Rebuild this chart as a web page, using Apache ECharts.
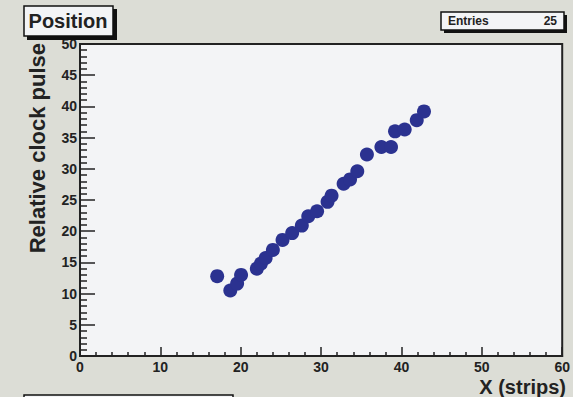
<!DOCTYPE html>
<html>
<head>
<meta charset="utf-8">
<script src="https://cdn.jsdelivr.net/npm/echarts@6/dist/echarts.min.js"></script>
<style>
  html, body { margin: 0; padding: 0; background: #dcddd6; }
  #main { width: 573px; height: 397px; }
</style>
</head>
<body>
<div id="main"></div>
<script>
// values
const stripX = [17.07, 18.7, 19.55, 20.04, 22.0, 22.5, 23.1, 24.0, 25.2, 26.4, 27.6, 28.4, 29.5,
  30.8, 31.3, 32.8, 33.6, 34.5, 35.7, 37.5, 38.7, 39.2, 40.4, 41.9, 42.8];
const clockPulse = [12.8, 10.5, 11.6, 13.0, 14.0, 14.8, 15.7, 17.0, 18.6, 19.7, 20.9, 22.4, 23.2,
  24.7, 25.7, 27.6, 28.3, 29.6, 32.3, 33.5, 33.5, 36.0, 36.3, 37.8, 39.2];
const titleText = "Position";
const entriesLabel = "Entries";
const entriesValue = "25";

const font = "'Liberation Sans', Arial, sans-serif";
const points = stripX.map((x, i) => [x, clockPulse[i]]);

const chart = echarts.init(document.getElementById("main"), null, { renderer: "svg" });

const option = {
  backgroundColor: "#dcddd6",
  animation: false,
  grid: {
    left: 80,
    right: 7,
    top: 44,
    bottom: 41,
    show: true,
    backgroundColor: "#f3f4f6",
    borderColor: "#222",
    borderWidth: 2,
  },
  xAxis: {
    type: "value",
    min: 0,
    max: 60,
    interval: 10,
    axisLine: { lineStyle: { color: "#222", width: 2 } },
    axisTick: { inside: true, length: 9, lineStyle: { color: "#222", width: 1.5 } },
    minorTick: { show: true, splitNumber: 5, length: 4, lineStyle: { color: "#222", width: 1.5 } },
    splitLine: { show: false },
    axisLabel: { color: "#222", fontFamily: font, fontWeight: "bold", fontSize: 14, margin: 4 },
  },
  yAxis: {
    type: "value",
    min: 0,
    max: 50,
    interval: 5,
    axisLine: { show: true, lineStyle: { color: "#222", width: 2 } },
    axisTick: { show: true, inside: true, length: 15, lineStyle: { color: "#222", width: 1.5 } },
    minorTick: { show: true, splitNumber: 5, length: 7, lineStyle: { color: "#222", width: 1.5 } },
    splitLine: { show: false },
    axisLabel: { color: "#222", fontFamily: font, fontWeight: "bold", fontSize: 14, margin: 3 },
  },
  series: [
    {
      type: "scatter",
      data: points,
      symbol: "circle",
      symbolSize: 14,
      itemStyle: { color: "#2b3290", opacity: 1 },
    },
  ],
  graphic: [
    // title box with shadow
    { type: "rect", shape: { x: 27, y: 9, width: 90, height: 31 }, style: { fill: "#111" }, z: 100 },
    { type: "rect", shape: { x: 24, y: 6, width: 89, height: 30 }, style: { fill: "#f3f4f6", stroke: "#111", lineWidth: 1.5 }, z: 101 },
    { type: "text", x: 68, y: 21, style: { text: titleText, font: "bold 20px " + font, fill: "#222", textAlign: "center", textVerticalAlign: "middle" }, z: 102 },
    // entries box
    { type: "rect", shape: { x: 444, y: 15, width: 123, height: 18 }, style: { fill: "#111" }, z: 100 },
    { type: "rect", shape: { x: 441, y: 12, width: 123, height: 18 }, style: { fill: "#f3f4f6", stroke: "#111", lineWidth: 1.5 }, z: 101 },
    { type: "text", x: 448, y: 21, style: { text: entriesLabel, font: "bold 12px " + font, fill: "#222", textAlign: "left", textVerticalAlign: "middle" }, z: 102 },
    { type: "text", x: 557, y: 21, style: { text: entriesValue, font: "bold 12px " + font, fill: "#222", textAlign: "right", textVerticalAlign: "middle" }, z: 102 },
    // box at bottom edge (mostly off the picture)
    { type: "rect", shape: { x: 24, y: 395, width: 209, height: 30 }, style: { fill: "#f3f4f6", stroke: "#111", lineWidth: 1.5 }, z: 101 },
    // axis titles
    { type: "text", x: 566, y: 387, style: { text: "X (strips)", font: "bold 20px " + font, fill: "#222", textAlign: "right", textVerticalAlign: "middle" }, z: 102 },
    { type: "text", x: 37, y: 43, rotation: Math.PI / 2, style: { text: "Relative clock pulse", font: "bold 22px " + font, fill: "#222", textAlign: "right", textVerticalAlign: "middle" }, z: 102 },
  ],
};

chart.setOption(option);
</script>
</body>
</html>
